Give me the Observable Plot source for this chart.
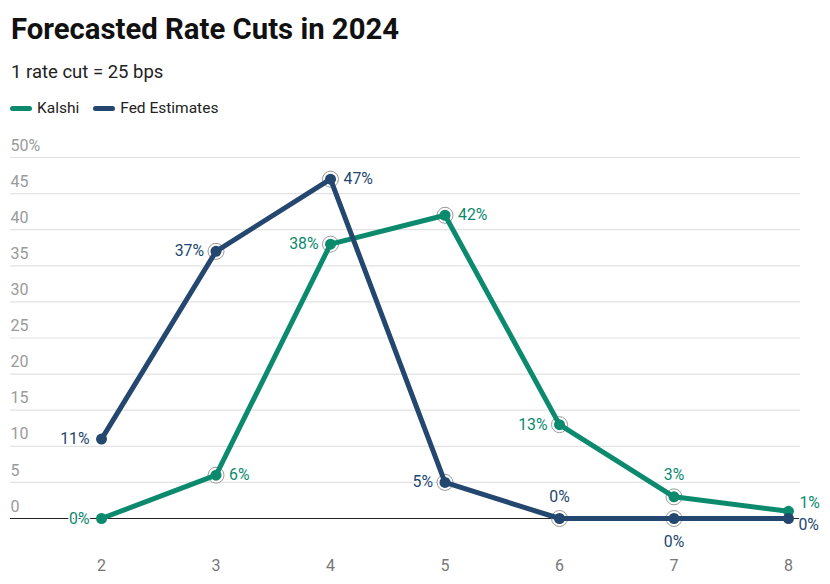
<!DOCTYPE html>
<html><head><meta charset="utf-8">
<script src="https://cdn.jsdelivr.net/npm/d3@7"></script>
<script src="https://cdn.jsdelivr.net/npm/@observablehq/plot@0.6"></script>
<style>
body{margin:0;background:#fff;font-family:Roboto,sans-serif;}
#wrap{width:830px;height:584px;overflow:hidden;position:relative}
h1{margin:0;position:absolute;left:11px;top:13px;line-height:33px;font-size:29.3px;font-weight:700;color:#111;white-space:nowrap}
.sub{position:absolute;left:11px;top:60px;line-height:24px;font-size:18.5px;color:#222;white-space:nowrap}
.legend{position:absolute;left:10px;top:98px;height:20px;font-size:15.5px;color:#222;display:flex;align-items:center;white-space:nowrap}
.sw{display:inline-block;width:22px;height:5px;border-radius:3px;margin-right:5px}
.item{display:flex;align-items:center;margin-right:14px}
#chart{position:absolute;left:0;top:130px;height:454px}
#chart svg{display:block}
</style></head><body>
<div id="wrap">
<h1>Forecasted Rate Cuts in 2024</h1>
<div class="sub">1 rate cut = 25 bps</div>
<div class="legend"><span class="item"><span class="sw" style="background:#0c8a6e"></span>Kalshi</span><span class="item"><span class="sw" style="background:#23476f"></span>Fed Estimates</span></div>
<div id="chart"></div>
</div>
<script>
const cuts = [2, 3, 4, 5, 6, 7, 8];
const kalshi = [0, 6, 38, 42, 13, 3, 1];
const fed = [11, 37, 47, 5, 0, 0, 0];
const yTicks = [0, 5, 10, 15, 20, 25, 30, 35, 40, 45, 50];
const seriesNames = ["Kalshi", "Fed Estimates"];
const colors = ["#0c8a6e", "#23476f"];

const data = [];
cuts.forEach((c, i) => data.push({series: "Kalshi", x: c, y: kalshi[i]}));
cuts.forEach((c, i) => data.push({series: "Fed Estimates", x: c, y: fed[i]}));

// label placement (layout only)
const place = {
  "Kalshi": {2: "left", 3: "right", 4: "left", 5: "right", 6: "left", 7: "top", 8: "topright"},
  "Fed Estimates": {2: "left", 3: "left", 4: "right", 5: "left", 6: "top", 7: "bottom", 8: "bottomright"}
};
const offs = {
  left: {dx: -12, dy: 0, anchor: "end"},
  right: {dx: 13, dy: 0, anchor: "start"},
  top: {dx: 0, dy: -22, anchor: "middle"},
  bottom: {dx: 0, dy: 23, anchor: "middle"},
  topright: {dx: 11, dy: -8, anchor: "start"},
  bottomright: {dx: 10, dy: 6, anchor: "start"}
};
const labels = data.map(d => ({...d, pos: place[d.series][d.x]}));

const labelMarks = Object.keys(offs).map(k => Plot.text(labels.filter(d => d.pos === k), {
  x: "x", y: "y", text: d => d.y + "%", fill: d => colors[seriesNames.indexOf(d.series)],
  stroke: "white", strokeWidth: 3, paintOrder: "stroke",
  dx: offs[k].dx, dy: offs[k].dy, textAnchor: offs[k].anchor, fontSize: 15.8
}));

const rings = data.filter(d => d.x > 2 && d.x < 8);
const gridTicks = yTicks.filter(t => t > 0);

const plot = Plot.plot({
  width: 830, height: 454,
  marginLeft: 10, marginRight: 30, marginTop: 27, marginBottom: 66,
  style: {fontFamily: "Roboto, sans-serif", fontSize: "15px", background: "transparent"},
  x: {domain: [1.205, 8.105], axis: null},
  y: {domain: [0, 50], axis: null},
  marks: [
    Plot.ruleY(gridTicks, {y: d => d, stroke: "#e2e2e2", strokeWidth: 1.2}),
    Plot.text(yTicks, {y: d => d, x: 1.205, text: d => d === 50 ? "50%" : String(d), textAnchor: "start", dy: -12, fill: "#9a9a9a", fontSize: 16}),
    Plot.ruleY([0], {y: d => d, stroke: "#222", strokeWidth: 1.2}),
    Plot.text(cuts, {x: d => d, y: () => 0, text: d => String(d), dy: 47, fill: "#777", fontSize: 16}),
    Plot.dot(rings, {x: "x", y: "y", r: 8, stroke: "#9a9a9a", strokeWidth: 1, fill: "white"}),
    Plot.line(data.filter(d => d.series === "Kalshi"), {x: "x", y: "y", stroke: colors[0], strokeWidth: 5, strokeLinejoin: "round", strokeLinecap: "round"}),
    Plot.dot(data.filter(d => d.series === "Kalshi"), {x: "x", y: "y", r: 5.5, fill: colors[0]}),
    Plot.line(data.filter(d => d.series === "Fed Estimates"), {x: "x", y: "y", stroke: colors[1], strokeWidth: 5, strokeLinejoin: "round", strokeLinecap: "round"}),
    Plot.dot(data.filter(d => d.series === "Fed Estimates"), {x: "x", y: "y", r: 5.5, fill: colors[1]}),
    ...labelMarks
  ]
});
document.getElementById("chart").appendChild(plot);
</script>
</body></html>
